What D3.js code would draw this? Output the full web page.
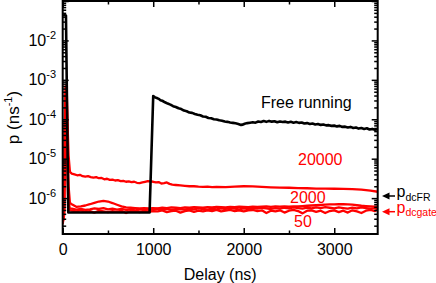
<!doctype html>
<html>
  <head>
    <script src="https://cdnjs.cloudflare.com/ajax/libs/d3/7.8.5/d3.min.js"></script>
    <style>
      body { margin: 0; background: #fff; }
      text { font-family: "Liberation Sans", Arial, sans-serif; }
    </style>
  </head>
  <body>
    <svg id="chart" width="436" height="283"></svg>
    <script>
      // free running detector, [delay ns, p ns^-1]
      var freeRunning = [
        [4, 4.5e-2], [36, 4.3e-2], [62, 4.3e-7], [960, 4.3e-7], [1000, 3.9e-4],
        [1020, 3.6e-4], [1040, 3.45e-4], [1060, 3.3e-4], [1080, 3.05e-4], [1100, 2.95e-4],
        [1130, 2.7e-4], [1160, 2.5e-4], [1190, 2.35e-4], [1220, 2.15e-4], [1250, 2.05e-4],
        [1280, 1.9e-4], [1310, 1.82e-4], [1340, 1.66e-4], [1370, 1.6e-4], [1400, 1.48e-4],
        [1430, 1.45e-4], [1460, 1.36e-4], [1490, 1.3e-4], [1520, 1.26e-4], [1550, 1.18e-4],
        [1580, 1.16e-4], [1610, 1.08e-4], [1640, 1.06e-4], [1670, 1.0e-4], [1700, 9.9e-5],
        [1730, 9.4e-5], [1760, 9.2e-5], [1790, 8.8e-5], [1820, 8.6e-5], [1850, 8.3e-5],
        [1880, 8.1e-5], [1910, 7.9e-5], [1940, 7.6e-5], [1970, 7.2e-5], [1990, 7.3e-5],
        [2010, 7.7e-5], [2040, 8.0e-5], [2070, 8.2e-5], [2100, 8.4e-5], [2130, 8.2e-5],
        [2160, 8.8e-5], [2190, 8.5e-5], [2220, 9.0e-5], [2250, 8.6e-5], [2280, 9.1e-5],
        [2310, 8.7e-5], [2340, 8.9e-5], [2370, 8.4e-5], [2400, 8.8e-5], [2430, 8.5e-5],
        [2460, 8.7e-5], [2490, 8.3e-5], [2520, 8.6e-5], [2550, 8.2e-5], [2580, 8.5e-5],
        [2610, 8.1e-5], [2640, 8.3e-5], [2670, 7.8e-5], [2700, 8.0e-5], [2730, 7.6e-5],
        [2760, 7.8e-5], [2790, 7.4e-5], [2820, 7.6e-5], [2850, 7.2e-5], [2880, 7.4e-5],
        [2910, 7.0e-5], [2940, 7.1e-5], [2970, 6.8e-5], [3000, 6.9e-5], [3030, 6.6e-5],
        [3060, 6.8e-5], [3090, 6.4e-5], [3120, 6.5e-5], [3150, 6.2e-5], [3180, 6.4e-5],
        [3210, 6.0e-5], [3240, 6.2e-5], [3270, 5.8e-5], [3300, 6.0e-5], [3330, 5.7e-5],
        [3360, 5.9e-5], [3390, 5.5e-5], [3420, 5.7e-5], [3450, 5.4e-5], [3480, 5.6e-5]
      ];

      var gate20000 = [
        [0, 2.5e-7], [15, 4e-7], [30, 6.8e-4], [45, 5e-4], [55, 6e-5], [65, 1.2e-5],
        [80, 4.6e-6], [100, 4.2e-6], [130, 4.0e-6], [160, 3.8e-6], [190, 3.9e-6],
        [220, 3.6e-6], [250, 3.5e-6], [280, 3.6e-6], [310, 3.4e-6], [340, 3.3e-6],
        [370, 3.4e-6], [400, 3.2e-6], [430, 3.25e-6], [460, 3.0e-6], [490, 3.1e-6],
        [520, 2.9e-6], [550, 2.95e-6], [580, 2.8e-6], [610, 2.85e-6], [640, 2.7e-6],
        [670, 2.75e-6], [700, 2.6e-6], [730, 2.65e-6], [760, 2.55e-6], [790, 2.6e-6],
        [820, 2.45e-6], [850, 2.4e-6], [880, 2.5e-6], [910, 2.6e-6], [940, 2.7e-6],
        [970, 2.65e-6], [1000, 2.6e-6], [1030, 2.5e-6], [1060, 2.55e-6], [1090, 2.35e-6],
        [1120, 2.4e-6], [1150, 2.5e-6], [1180, 2.3e-6], [1210, 2.2e-6], [1250, 2.15e-6],
        [1300, 2.1e-6], [1350, 2.05e-6], [1400, 2.0e-6], [1450, 2.0e-6], [1500, 1.95e-6],
        [1550, 1.93e-6], [1600, 1.95e-6], [1650, 1.9e-6], [1700, 1.92e-6], [1800, 1.9e-6],
        [1900, 1.95e-6], [2000, 2.0e-6], [2100, 1.98e-6], [2200, 1.92e-6], [2300, 1.88e-6],
        [2400, 1.85e-6], [2500, 1.83e-6], [2600, 1.8e-6], [2700, 1.78e-6], [2800, 1.75e-6],
        [2900, 1.74e-6], [3000, 1.73e-6], [3100, 1.72e-6], [3200, 1.7e-6], [3300, 1.65e-6],
        [3400, 1.55e-6], [3480, 1.45e-6]
      ];

      // start of the low gated traces (afterpulse peak)
      var gate2000Start = [[0, 3e-7], [15, 5e-7], [32, 5e-4], [45, 3e-4], [55, 2e-5], [65, 2e-6], [80, 7.5e-7]];
      var gateMidStart = [[0, 2.2e-7], [15, 4e-7], [30, 4e-4], [42, 2e-4], [52, 1e-5], [62, 1.2e-6], [75, 5.5e-7]];
      var gate50Start = [[0, 2.4e-7], [15, 3.5e-7], [28, 3e-4], [40, 1.5e-4], [50, 8e-6], [60, 1e-6], [75, 5e-7]];

      var tailDelays = [
        100, 150, 200, 250, 300, 350, 400, 450, 500, 550,
        600, 650, 700, 750, 800, 850, 900, 950, 1000, 1050,
        1100, 1150, 1200, 1250, 1300, 1350, 1400, 1450, 1500, 1550,
        1600, 1650, 1700, 1750, 1800, 1850, 1900, 1950, 2000, 2050,
        2100, 2150, 2200, 2250, 2300, 2350, 2400, 2450, 2500, 2550,
        2600, 2650, 2700, 2750, 2800, 2850, 2900, 2950, 3000, 3050,
        3100, 3150, 3200, 3250, 3300, 3350, 3400, 3450, 3480
      ];
      // tails in units of 1e-7 ns^-1
      var gate2000Tail = [
        7.0, 6.0, 6.2, 6.5, 7.0, 7.6, 8.2, 8.5, 8.2, 7.5,
        6.8, 6.2, 5.8, 5.7, 5.6, 5.5, 5.6, 5.5, 5.6, 5.5,
        5.7, 5.6, 5.8, 5.7, 5.6, 5.8, 5.7, 5.9, 5.8, 5.7,
        5.9, 5.8, 6.0, 5.9, 5.8, 6.0, 5.9, 6.1, 6.0, 5.9,
        6.1, 6.0, 6.1, 6.2, 6.0, 6.2, 6.1, 6.2, 6.1, 6.2,
        6.2, 6.3, 6.4, 6.5, 6.6, 6.7, 6.8, 6.9, 6.9, 7.0,
        7.0, 6.9, 6.8, 6.6, 6.4, 6.3, 6.2, 6.1, 6.0
      ];
      var gateMidTail = [
        5.4, 5.1, 5.3, 5.0, 5.2, 5.5, 5.3, 5.6, 5.2, 5.4,
        5.1, 5.3, 5.0, 5.2, 4.9, 5.1, 5.3, 5.0, 5.2, 5.4,
        5.1, 5.3, 5.0, 5.2, 5.3, 5.1, 5.4, 5.2, 5.5, 5.3,
        5.1, 5.4, 5.2, 5.5, 5.3, 5.6, 5.4, 5.2, 5.5, 5.3,
        5.6, 5.4, 5.7, 5.5, 5.3, 5.6, 5.4, 5.7, 5.5, 5.8,
        5.6, 5.4, 5.7, 5.5, 5.8, 5.6, 5.9, 5.7, 5.5, 5.8,
        5.6, 5.4, 5.7, 5.5, 5.8, 5.6, 5.4, 5.6, 5.7
      ];
      var gate50Tail = [
        4.8, 4.6, 4.9, 4.5, 4.7, 4.3, 4.8, 4.6, 4.4, 4.7,
        4.5, 4.8, 4.2, 4.7, 4.6, 4.4, 4.8, 4.5, 4.7, 4.6,
        4.9, 4.4, 4.7, 4.8, 4.3, 4.7, 4.9, 4.5, 4.8, 4.6,
        4.9, 4.7, 5.0, 4.6, 4.8, 5.0, 4.7, 4.9, 4.6, 4.9,
        5.0, 4.7, 4.9, 4.2, 4.8, 4.6, 4.9, 4.3, 4.8, 5.0,
        4.7, 4.1, 4.8, 4.9, 4.5, 4.8, 4.2, 4.7, 4.9, 4.4,
        4.8, 4.3, 4.9, 4.6, 4.2, 4.8, 5.0, 4.7, 5.2
      ];

      var xMajor = [0, 1000, 2000, 3000];
      var xMinor = [500, 1500, 2500];
      var yExponents = [-2, -3, -4, -5, -6];

      function withTail(start, tail) {
        return start.concat(tailDelays.map((t, i) => [t, tail[i] * 1e-7]));
      }
      var gate2000 = withTail(gate2000Start, gate2000Tail);
      var gateMid = withTail(gateMidStart, gateMidTail);
      var gate50 = withTail(gate50Start, gate50Tail);

      var pL = 62.7, pR = 377.7, pT = 1, pB = 234;
      var svg = d3.select("#chart");

      var x = d3.scaleLinear().domain([0, 3480]).range([pL, pR]);
      var y = d3.scaleLog().domain([1.23e-7, 0.1]).range([pB, pT]);

      svg.append("clipPath").attr("id", "clip")
        .append("rect").attr("x", pL).attr("y", pT)
        .attr("width", pR - pL).attr("height", pB - pT);

      var line = d3.line().x(d => x(d[0])).y(d => y(d[1]));

      var plot = svg.append("g").attr("clip-path", "url(#clip)");
      [gate50, gateMid, gate2000, gate20000].forEach(s => {
        plot.append("path").datum(s).attr("d", line)
          .attr("fill", "none").attr("stroke", "#ff0000")
          .attr("stroke-width", 2.3).attr("stroke-linejoin", "round");
      });
      plot.append("path").datum(freeRunning).attr("d", line)
        .attr("fill", "none").attr("stroke", "#000")
        .attr("stroke-width", 2.6).attr("stroke-linejoin", "round");

      // ticks
      var yAll = y.ticks();
      var yMajorVals = yAll.filter(v => Math.abs(Math.log10(v) - Math.round(Math.log10(v))) < 1e-9);
      var yMinorVals = yAll.filter(v => yMajorVals.indexOf(v) < 0);

      function tickAxis(axis, tr, vals, size) {
        var g = svg.append("g").attr("transform", tr)
          .call(axis.tickValues(vals).tickSize(size).tickFormat(""));
        g.select(".domain").remove();
        g.selectAll("line").attr("stroke-width", 1.5);
        return g;
      }
      tickAxis(d3.axisLeft(y), "translate(" + pL + ",0)", yMajorVals, -6);
      tickAxis(d3.axisLeft(y), "translate(" + pL + ",0)", yMinorVals, -3.5);
      tickAxis(d3.axisRight(y), "translate(" + pR + ",0)", yMajorVals, -6);
      tickAxis(d3.axisRight(y), "translate(" + pR + ",0)", yMinorVals, -3.5);
      tickAxis(d3.axisTop(x), "translate(0," + pT + ")", xMajor, -6);
      tickAxis(d3.axisTop(x), "translate(0," + pT + ")", xMinor, -3.5);
      tickAxis(d3.axisBottom(x), "translate(0," + pB + ")", xMinor, -3.5);

      var xg = svg.append("g").attr("transform", "translate(0," + pB + ")")
        .call(d3.axisBottom(x).tickValues(xMajor).tickSize(-6).tickPadding(9.6).tickFormat(d3.format("d")));
      xg.select(".domain").remove();
      xg.selectAll("line").attr("stroke-width", 1.5);
      xg.selectAll("text").attr("font-size", 16)
        .attr("font-family", "'Liberation Sans', Arial, sans-serif");

      svg.append("rect").attr("x", pL).attr("y", pT)
        .attr("width", pR - pL).attr("height", pB - pT)
        .attr("fill", "none").attr("stroke", "#000").attr("stroke-width", 2);

      // y tick labels
      yExponents.forEach(e => {
        var t = svg.append("text").attr("x", 56).attr("y", y(Math.pow(10, e)) + 5.6)
          .attr("text-anchor", "end").attr("font-size", 16);
        t.append("tspan").text("10");
        t.append("tspan").attr("font-size", 11).attr("dy", -7).text(String(e));
      });

      // axis titles
      var yt = svg.append("text").attr("transform", "translate(19,117.5) rotate(-90)")
        .attr("text-anchor", "middle").attr("font-size", 17);
      yt.append("tspan").text("p (ns");
      yt.append("tspan").attr("font-size", 11).attr("dy", -7).text("-1");
      yt.append("tspan").attr("dy", 7).text(")");

      svg.append("text").attr("x", (pL + pR) / 2).attr("y", 279.5)
        .attr("text-anchor", "middle").attr("font-size", 16).text("Delay (ns)");

      // curve labels
      var labels = [
        {t: "Free running", x: 261, y: 108, c: "#000"},
        {t: "20000", x: 298, y: 165, c: "#ff0000"},
        {t: "2000", x: 290, y: 203, c: "#ff0000"},
        {t: "50", x: 294, y: 226.5, c: "#ff0000"}
      ];
      labels.forEach(l => {
        svg.append("text").attr("x", l.x).attr("y", l.y).attr("fill", l.c)
          .attr("font-size", 16).text(l.t);
      });

      // dark count markers on the right
      var marks = [
        {sub: "dcFR", y: 196, c: "#000"},
        {sub: "dcgate", y: 211.7, c: "#ff0000"}
      ];
      marks.forEach(m => {
        svg.append("line").attr("x1", 388).attr("x2", 395).attr("y1", m.y).attr("y2", m.y)
          .attr("stroke", m.c).attr("stroke-width", 1.5);
        svg.append("path")
          .attr("d", "M382," + m.y + "L389.5," + (m.y - 3.5) + "L389.5," + (m.y + 3.5) + "Z")
          .attr("fill", m.c);
        var t = svg.append("text").attr("x", 396.5).attr("y", m.y + 1)
          .attr("fill", m.c).attr("font-size", 16);
        t.append("tspan").text("p");
        t.append("tspan").attr("font-size", 10.5).attr("dy", 3.5).text(m.sub);
      });
    </script>
  </body>
</html>
